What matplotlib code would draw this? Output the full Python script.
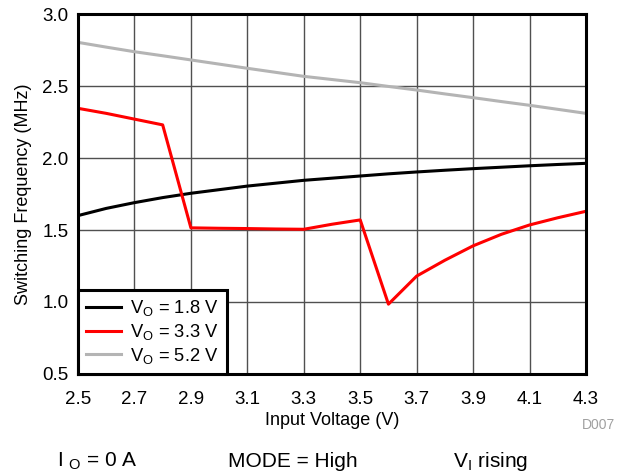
import matplotlib
matplotlib.use("Agg")
import matplotlib.pyplot as plt

plt.rcParams["font.family"] = ["Liberation Sans", "DejaVu Sans"]

# input voltage (V)
vin = [2.5, 2.6, 2.7, 2.8, 2.9, 3.0, 3.1, 3.2, 3.3, 3.4, 3.5, 3.6,
       3.7, 3.8, 3.9, 4.0, 4.1, 4.2, 4.3]
# switching frequency (MHz)
f_18 = [1.60, 1.65, 1.69, 1.725, 1.755, 1.78, 1.805, 1.825, 1.845, 1.86,
        1.875, 1.89, 1.903, 1.915, 1.926, 1.936, 1.946, 1.955, 1.963]
f_33 = [2.345, 2.31, 2.27, 2.23, 1.515, 1.512, 1.51, 1.507, 1.505, 1.54,
        1.57, 0.985, 1.18, 1.29, 1.39, 1.47, 1.535, 1.585, 1.63]
f_52 = [2.803, 2.77, 2.738, 2.71, 2.681, 2.652, 2.623, 2.595, 2.567, 2.545,
        2.523, 2.497, 2.472, 2.445, 2.419, 2.392, 2.366, 2.338, 2.31]

xticks = [2.5, 2.7, 2.9, 3.1, 3.3, 3.5, 3.7, 3.9, 4.1, 4.3]
yticks = [0.5, 1.0, 1.5, 2.0, 2.5, 3.0]

fig = plt.figure(figsize=(6.21, 4.73), dpi=100)
ax = fig.add_axes([78 / 621, 1 - 374 / 473, 508 / 621, 360 / 473])

ax.plot(vin, f_18, color="black", lw=2.2, label="V$_\\mathregular{O}$ = 1.8 V")
ax.plot(vin, f_33, color="#ff0000", lw=2.2, label="V$_\\mathregular{O}$ = 3.3 V")
ax.plot(vin, f_52, color="#b4b4b4", lw=2.2, label="V$_\\mathregular{O}$ = 5.2 V")

ax.set_xlim(2.5, 4.3)
ax.set_ylim(0.5, 3.0)
ax.set_xticks(xticks)
ax.set_yticks(yticks)
ax.set_xticklabels([f"{v:.1f}" for v in xticks])
ax.set_yticklabels([f"{v:.1f}" for v in yticks])
ax.tick_params(length=0, labelsize=13.5)
ax.tick_params(axis="x", pad=12)
ax.tick_params(axis="y", pad=7)
ax.grid(True, color="#505050", lw=1.0)
ax.set_axisbelow(True)
for s in ax.spines.values():
    s.set_linewidth(2.2)

ax.set_xlabel("Input Voltage (V)", fontsize=13, labelpad=3)
ax.set_ylabel("Switching Frequency (MHz)", fontsize=13, labelpad=7)

leg = ax.legend(loc="lower left", fontsize=13.2, fancybox=False, borderaxespad=0,
                handlelength=1.9, handletextpad=0.5, labelspacing=0.2,
                borderpad=0.45, framealpha=1)
leg.get_frame().set_edgecolor("black")
leg.get_frame().set_linewidth(2.2)

fig.text(615 / 621, 1 - 425 / 473, "D007", color="#a0a0a0", fontsize=10,
         ha="right", va="center")
fig.text(57 / 621, 1 - 461 / 473, "I $_\\mathregular{O}$ = 0 A", fontsize=15,
         ha="left", va="center")
fig.text(228 / 621, 1 - 461 / 473, "MODE = High", fontsize=15,
         ha="left", va="center")
fig.text(453 / 621, 1 - 461 / 473, "V$_\\mathregular{I}$ rising", fontsize=15,
         ha="left", va="center")

fig.savefig("out.png", dpi=100)
